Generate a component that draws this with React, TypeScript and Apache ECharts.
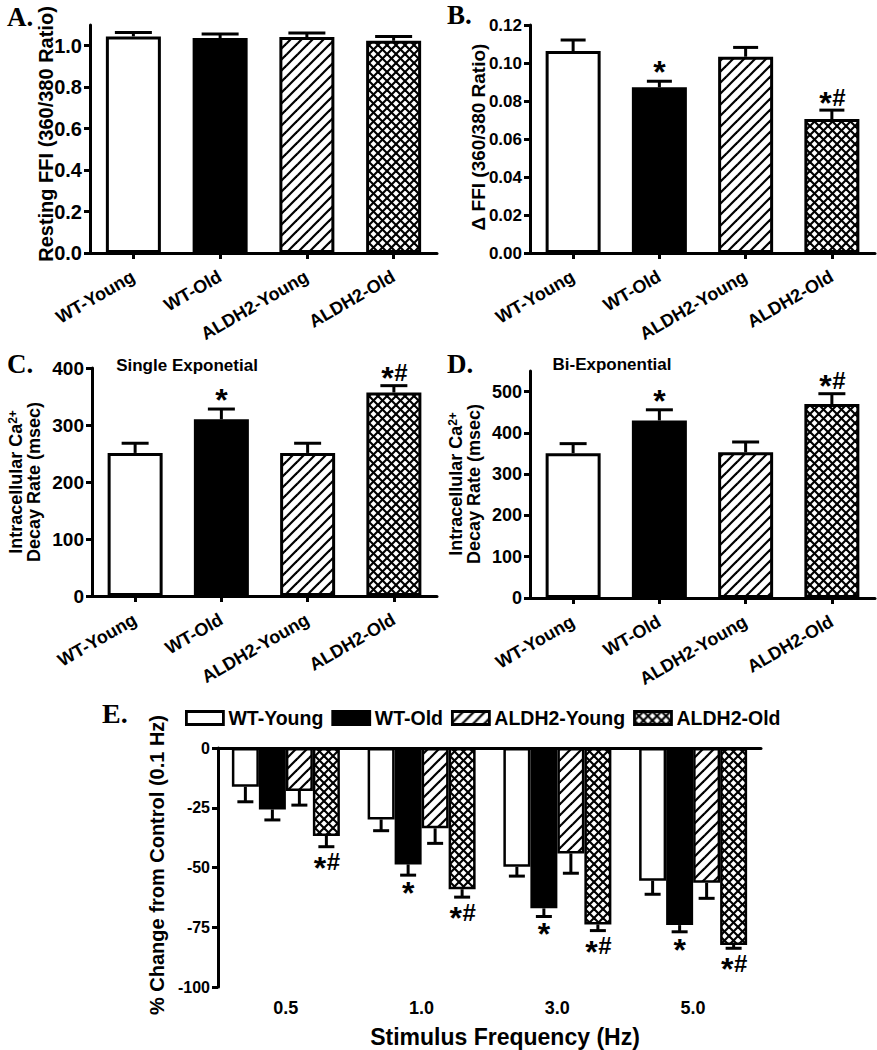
import React, { useEffect, useRef } from 'react';
import * as echarts from 'echarts';

// ---------- data ----------
const groups = ['WT-Young', 'WT-Old', 'ALDH2-Young', 'ALDH2-Old'];

const restingMean = [1.045, 1.037, 1.042, 1.024];
const restingSem = [0.019, 0.019, 0.019, 0.021];
const restingSig = ['', '', '', ''];
const restingTicks = [0, 0.2, 0.4, 0.6, 0.8, 1.0];

const deltaMean = [0.1063, 0.0872, 0.1033, 0.0705];
const deltaSem = [0.0058, 0.0032, 0.0049, 0.0047];
const deltaSig = ['', '*', '', '*#'];

const singleMean = [251, 310, 251, 357];
const singleSem = [17, 18, 17, 12];
const singleSig = ['', '*', '', '*#'];

const biMean = [351, 430, 353, 470];
const biSem = [23, 26, 25, 25];
const biSig = ['', '*', '', '*#'];
const biTicks = [0, 100, 200, 300, 400, 500];

const freqLabels = ['0.5', '1.0', '3.0', '5.0'];
const wtYoungChange = [-16.2, -29.9, -49.7, -55.5];
const wtYoungErr = [6.3, 4.7, 3.9, 5.7];
const wtYoungSig = ['', '', '', ''];
const wtOldChange = [-25.7, -48.7, -67.1, -74.1];
const wtOldErr = [4.4, 4.5, 3.4, 2.8];
const wtOldSig = ['', '*', '*', '*'];
const aldhYoungChange = [-18.0, -33.6, -44.1, -56.4];
const aldhYoungErr = [5.9, 6.3, 8.3, 6.5];
const aldhYoungSig = ['', '', '', ''];
const aldhOldChange = [-36.8, -59.1, -73.8, -82.4];
const aldhOldErr = [4.5, 3.3, 2.6, 1.4];
const aldhOldSig = ['*#', '*#', '*#', '*#'];

// ---------- styles ----------
const FONT = '"Liberation Sans", Arial, Helvetica, sans-serif';
const SERIF = '"Liberation Serif", "Times New Roman", serif';

function makeTile(size: number, cross: boolean, lw: number) {
  const c = document.createElement('canvas');
  c.width = size;
  c.height = size;
  const g = c.getContext('2d')!;
  g.fillStyle = '#fff';
  g.fillRect(0, 0, size, size);
  g.strokeStyle = '#000';
  g.lineWidth = lw;
  const seg = (x1: number, y1: number, x2: number, y2: number) => {
    g.beginPath();
    g.moveTo(x1, y1);
    g.lineTo(x2, y2);
    g.stroke();
  };
  seg(-2, size + 2, size + 2, -2);
  seg(-3, 3, 3, -3);
  seg(size - 3, size + 3, size + 3, size - 3);
  if (cross) {
    seg(-2, -2, size + 2, size + 2);
    seg(size - 3, -3, size + 3, 3);
    seg(-3, size - 3, 3, size + 3);
  }
  return c;
}

function errSeries(
  name: string,
  axis: number,
  means: number[],
  sems: number[],
  sigs: string[],
  dir: number,
  offset: number,
  cap: number
) {
  return {
    type: 'custom',
    name,
    xAxisIndex: axis,
    yAxisIndex: axis,
    z: 5,
    silent: true,
    data: means.map((m, i) => [i, m, sems[i]]),
    encode: { x: 0, y: 1 },
    renderItem: (params: any, api: any) => {
      const i = api.value(0);
      const m = api.value(1);
      const e = api.value(2);
      const p0 = api.coord([i, m]);
      const p1 = api.coord([i, m + dir * e]);
      const x = p0[0] + offset;
      const st = { stroke: '#000', lineWidth: 3 };
      const children: any[] = [
        { type: 'line', shape: { x1: x, y1: p0[1], x2: x, y2: p1[1] }, style: st },
        { type: 'line', shape: { x1: x - cap / 2, y1: p1[1], x2: x + cap / 2, y2: p1[1] }, style: st },
      ];
      const s = sigs[params.dataIndex];
      const fsS = 32;
      const fsH = 24;
      const up = dir > 0;
      const star = (sx: number, sy: number) => ({
        type: 'text', x: sx, y: sy,
        style: { text: '*', font: `bold ${fsS}px ${FONT}`, align: 'center', verticalAlign: 'middle', fill: '#000' },
      });
      const hash = (sx: number, sy: number) => ({
        type: 'text', x: sx, y: sy,
        style: { text: '#', font: `bold ${fsH}px ${FONT}`, align: 'center', verticalAlign: 'middle', fill: '#000' },
      });
      if (s === '*') {
        children.push(star(x, up ? p1[1] - 9 : p1[1] + 18));
      } else if (s === '*#') {
        children.push(star(x - 6.5, up ? p1[1] - 7.5 : p1[1] + 21));
        children.push(hash(x + 7, up ? p1[1] - 13 : p1[1] + 15));
      }
      return { type: 'group', children };
    },
  };
}

export default function App() {
  const ref = useRef<HTMLDivElement>(null);

  useEffect(() => {
    if (!ref.current) return;
    const chart = echarts.init(ref.current, undefined, { renderer: 'svg' });

    const hatch = { image: makeTile(11, false, 2.2), repeat: 'repeat' };
    const crossh = { image: makeTile(9, true, 2.1), repeat: 'repeat' };
    const fills: any[] = ['#ffffff', '#000000', hatch, crossh];

    const grids = [
      { left: 90, top: 25, width: 347, height: 228 },
      { left: 530, top: 25, width: 345, height: 228 },
      { left: 92, top: 368, width: 345, height: 228 },
      { left: 530, top: 371, width: 345, height: 227 },
      { left: 218, top: 748, width: 543, height: 239 },
    ];

    const axLine = { show: true, lineStyle: { color: '#000', width: 3 } };
    const catAxis = (gi: number) => ({
      type: 'category',
      gridIndex: gi,
      data: groups,
      axisLine: axLine,
      axisTick: { show: true, alignWithLabel: true, length: 6, lineStyle: { color: '#000', width: 3 } },
      axisLabel: {
        interval: 0,
        rotate: 30,
        margin: 22,
        fontSize: 18,
        fontWeight: 'bold',
        fontFamily: FONT,
        color: '#000',
      },
    });
    const valAxis = (gi: number, extra: any, fs: number) => ({
      type: 'value',
      gridIndex: gi,
      axisLine: axLine,
      splitLine: { show: false },
      ...extra,
      axisTick: { show: true, length: 6, lineStyle: { color: '#000', width: 3 }, ...(extra.axisTick || {}) },
      axisLabel: {
        margin: 8,
        fontSize: fs,
        fontWeight: 'bold',
        fontFamily: FONT,
        color: '#000',
        ...(extra.axisLabel || {}),
      },
    });

    const panelBars = (idx: number, means: number[]) => ({
      type: 'bar',
      name: 'panel' + idx,
      xAxisIndex: idx,
      yAxisIndex: idx,
      barWidth: 55,
      silent: true,
      itemStyle: { borderColor: '#000', borderWidth: 3 },
      data: means.map((m, i) => ({ value: m, itemStyle: { color: fills[i] } })),
    });

    const eMeans = [wtYoungChange, wtOldChange, aldhYoungChange, aldhOldChange];
    const eErrs = [wtYoungErr, wtOldErr, aldhYoungErr, aldhOldErr];
    const eSigs = [wtYoungSig, wtOldSig, aldhYoungSig, aldhOldSig];
    const eBarW = 27;

    const eBars = groups.map((g, k) => ({
      type: 'bar',
      name: g,
      xAxisIndex: 4,
      yAxisIndex: 4,
      barWidth: eBarW,
      barGap: '0%',
      silent: true,
      itemStyle: { color: fills[k], borderColor: '#000', borderWidth: 2.5 },
      data: eMeans[k],
    }));
    const eErrSeries = groups.map((g, k) =>
      errSeries('err-' + g, 4, eMeans[k], eErrs[k], eSigs[k], -1, (k - 1.5) * eBarW, 16)
    );

    const textEl = (x: number, y: number, text: string, font: string, rot = 0, extra: any = {}) => ({
      type: 'text',
      x,
      y,
      rotation: rot,
      silent: true,
      style: { text, font, fill: '#000', align: 'center', verticalAlign: 'middle', ...extra },
    });

    const yTitleRich = {
      a: { fontSize: 18, fontWeight: 'bold', fontFamily: FONT, lineHeight: 18, fill: '#000' },
      s: { fontSize: 12, fontWeight: 'bold', fontFamily: FONT, lineHeight: 18, verticalAlign: 'top', fill: '#000' },
    } as any;

    const option: any = {
      animation: false,
      backgroundColor: '#ffffff',
      grid: grids,
      legend: {
        data: groups,
        left: 185,
        top: 708,
        padding: 0,
        itemWidth: 37,
        itemHeight: 13,
        itemGap: 8,
        icon: 'rect',
        selectedMode: false,
        itemStyle: { borderColor: '#000', borderWidth: 2.8 },
        textStyle: { fontSize: 19.5, fontWeight: 'bold', fontFamily: FONT, color: '#000' },
      },
      xAxis: [
        catAxis(0),
        catAxis(1),
        catAxis(2),
        catAxis(3),
        {
          type: 'category',
          gridIndex: 4,
          position: 'top',
          data: freqLabels,
          axisLine: { ...axLine, onZero: false },
          axisTick: { show: false },
          axisLabel: { show: false },
        },
        {
          type: 'category',
          gridIndex: 4,
          position: 'bottom',
          data: freqLabels,
          axisLine: { show: false, onZero: false },
          axisTick: { show: false },
          axisLabel: { margin: 12, fontSize: 18, fontWeight: 'bold', fontFamily: FONT, color: '#000' },
        },
      ],
      yAxis: [
        valAxis(0, {
          min: 0,
          max: 1.1,
          axisTick: { customValues: restingTicks },
          axisLabel: { customValues: restingTicks, formatter: (v: number) => v.toFixed(1) },
        }, 20),
        valAxis(1, {
          min: 0,
          max: 0.12,
          interval: 0.02,
          axisLabel: { formatter: (v: number) => v.toFixed(2) },
        }, 17),
        valAxis(2, { min: 0, max: 400, interval: 100 }, 19),
        valAxis(3, {
          min: 0,
          max: 550,
          axisTick: { customValues: biTicks },
          axisLabel: { customValues: biTicks },
        }, 18),
        valAxis(4, { min: -100, max: 0, interval: 25 }, 16),
      ],
      series: [
        panelBars(0, restingMean),
        errSeries('errA', 0, restingMean, restingSem, restingSig, 1, 0, 37),
        panelBars(1, deltaMean),
        errSeries('errB', 1, deltaMean, deltaSem, deltaSig, 1, 0, 25),
        panelBars(2, singleMean),
        errSeries('errC', 2, singleMean, singleSem, singleSig, 1, 0, 27),
        panelBars(3, biMean),
        errSeries('errD', 3, biMean, biSem, biSig, 1, 0, 27),
        ...eBars,
        ...eErrSeries,
      ],
      graphic: [
        textEl(7, 17, 'A.', `bold 27px ${SERIF}`, 0, { align: 'left' }),
        textEl(447, 15, 'B.', `bold 27px ${SERIF}`, 0, { align: 'left' }),
        textEl(7, 364, 'C.', `bold 27px ${SERIF}`, 0, { align: 'left' }),
        textEl(447, 364, 'D.', `bold 27px ${SERIF}`, 0, { align: 'left' }),
        textEl(102, 713, 'E.', `bold 28px ${SERIF}`, 0, { align: 'left' }),
        textEl(187, 365, 'Single Exponetial', `bold 17px ${FONT}`),
        textEl(612, 364, 'Bi-Exponential', `bold 17px ${FONT}`),
        textEl(46, 134, 'Resting FFI (360/380 Ratio)', `bold 20px ${FONT}`, Math.PI / 2),
        textEl(478, 137, '\u0394 FFI (360/380 Ratio)', `bold 19px ${FONT}`, Math.PI / 2),
        {
          type: 'text', x: 25, y: 482, rotation: Math.PI / 2, silent: true,
          style: {
            text: '{a|Intracellular Ca}{s|2+}\n{a|Decay Rate (msec)}',
            rich: yTitleRich, align: 'center', verticalAlign: 'middle', fill: '#000',
            font: `bold 18px ${FONT}`,
          },
        },
        {
          type: 'text', x: 465, y: 484, rotation: Math.PI / 2, silent: true,
          style: {
            text: '{a|Intracellular Ca}{s|2+}\n{a|Decay Rate (msec)}',
            rich: yTitleRich, align: 'center', verticalAlign: 'middle', fill: '#000',
            font: `bold 18px ${FONT}`,
          },
        },
        textEl(157, 865, '% Change from Control (0.1 Hz)', `bold 20px ${FONT}`, Math.PI / 2),
        textEl(505, 1037, 'Stimulus Frequency (Hz)', `bold 23px ${FONT}`),
      ],
    };

    chart.setOption(option);
    return () => chart.dispose();
  }, []);

  return (
    <div
      ref={ref}
      style={{ position: 'absolute', left: 0, top: 0, width: 877, height: 1050, background: '#fff' }}
    />
  );
}
